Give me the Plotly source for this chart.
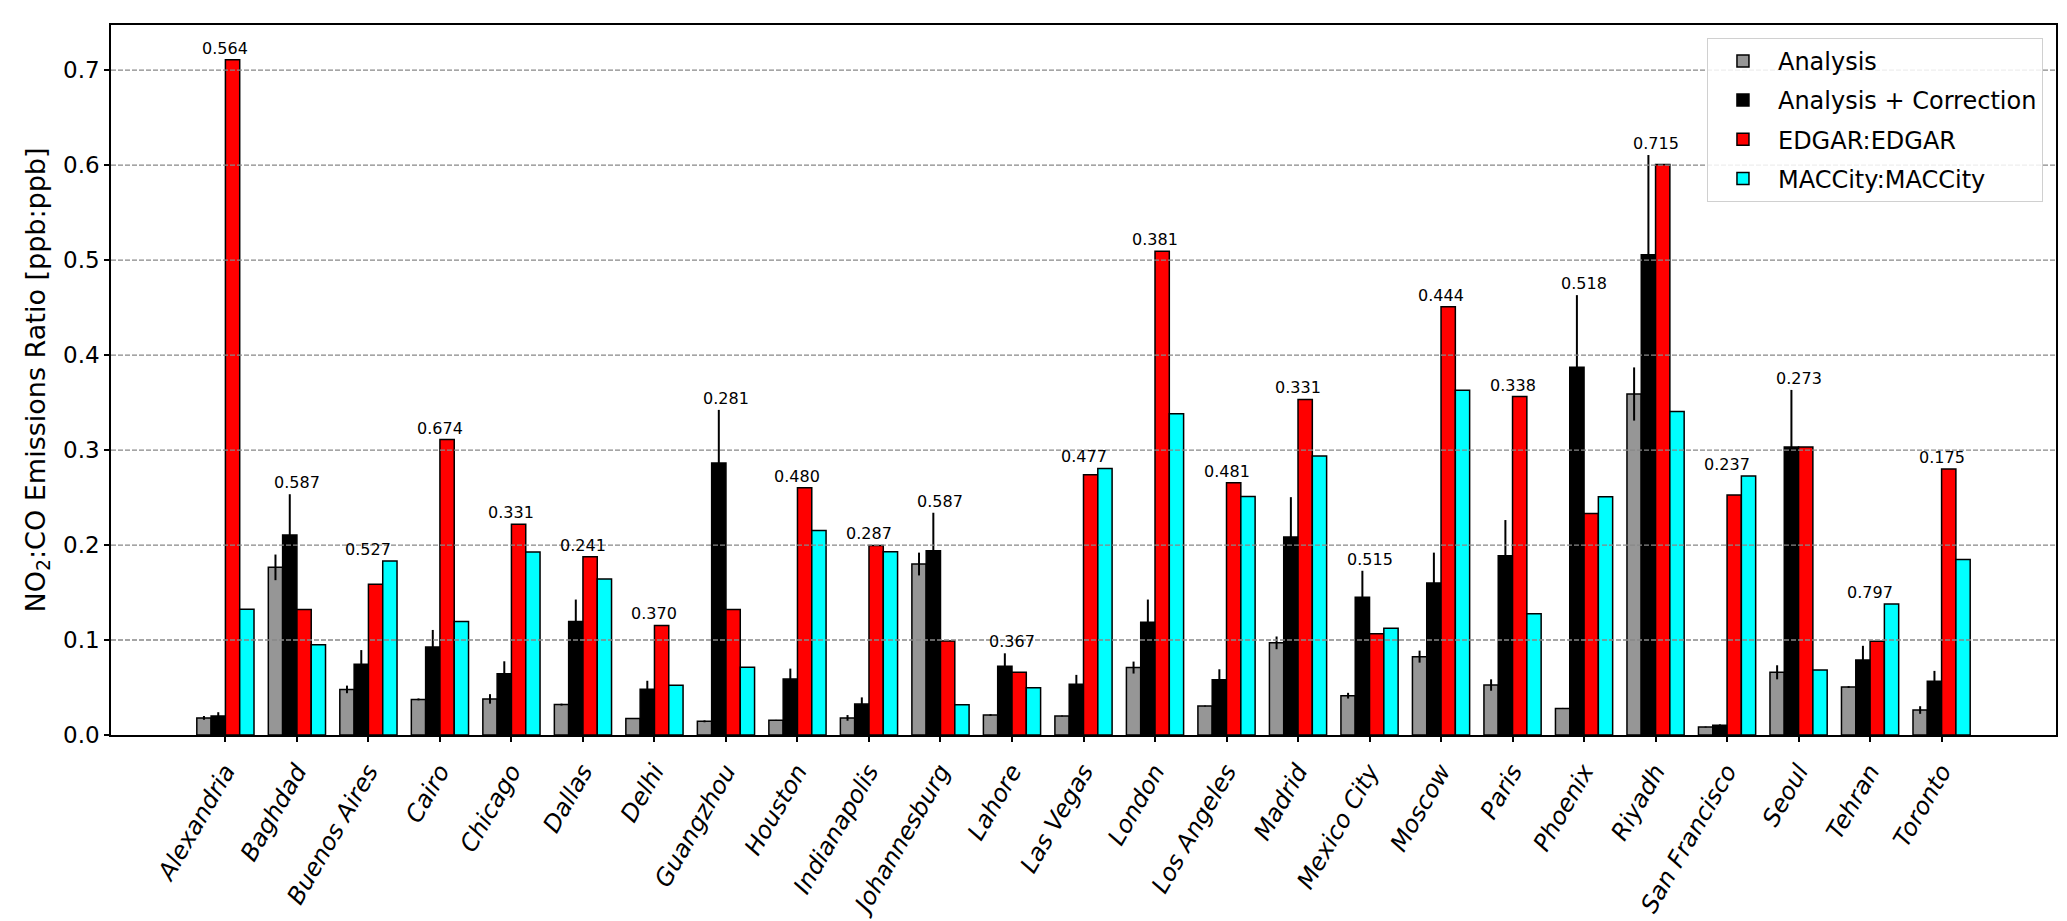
import plotly.graph_objects as go

cities = ["Alexandria", "Baghdad", "Buenos Aires", "Cairo", "Chicago", "Dallas", "Delhi",
          "Guangzhou", "Houston", "Indianapolis", "Johannesburg", "Lahore", "Las Vegas",
          "London", "Los Angeles", "Madrid", "Mexico City", "Moscow", "Paris", "Phoenix",
          "Riyadh", "San Francisco", "Seoul", "Tehran", "Toronto"]

analysis = [0.018, 0.1765, 0.048, 0.0375, 0.038, 0.032, 0.0175, 0.0144, 0.0154, 0.018,
            0.180, 0.021, 0.020, 0.071, 0.0305, 0.097, 0.0414, 0.0825, 0.0526, 0.028,
            0.359, 0.0084, 0.066, 0.0505, 0.0263]
analysis_err = [0.002, 0.0135, 0.004, 0.001, 0.005, 0.001, 0.0005, 0.001, 0.0005, 0.003,
                0.012, 0.001, 0.0005, 0.0063, 0.0005, 0.0067, 0.003, 0.0063, 0.006, 0.0005,
                0.028, 0.0005, 0.0074, 0.001, 0.004]

corrected = [0.020, 0.2105, 0.0744, 0.0926, 0.0646, 0.1196, 0.0481, 0.2863, 0.0589, 0.0326,
             0.194, 0.0723, 0.0533, 0.1186, 0.0582, 0.2084, 0.1449, 0.160, 0.1888, 0.3871,
             0.5056, 0.0102, 0.3033, 0.0789, 0.0565]
corrected_err = [0.004, 0.043, 0.015, 0.018, 0.013, 0.023, 0.009, 0.056, 0.011, 0.007,
                 0.040, 0.0137, 0.010, 0.024, 0.011, 0.042, 0.028, 0.032, 0.0375, 0.076,
                 0.105, 0.001, 0.060, 0.015, 0.011]

edgar = [0.711, 0.132, 0.1586, 0.311, 0.2218, 0.1877, 0.1154, 0.132, 0.2604, 0.1996,
         0.0989, 0.066, 0.274, 0.5093, 0.2656, 0.3533, 0.1067, 0.451, 0.3563, 0.2333,
         0.6007, 0.2526, 0.3033, 0.0986, 0.280]

maccity = [0.1323, 0.095, 0.1832, 0.1196, 0.1926, 0.1642, 0.0523, 0.0712, 0.2154, 0.193,
           0.0319, 0.0498, 0.2807, 0.3382, 0.2512, 0.2937, 0.1123, 0.363, 0.1277, 0.2509,
           0.3407, 0.2726, 0.0684, 0.1379, 0.1849]

bar_labels = ["0.564", "0.587", "0.527", "0.674", "0.331", "0.241", "0.370", "0.281", "0.480",
              "0.287", "0.587", "0.367", "0.477", "0.381", "0.481", "0.331", "0.515", "0.444",
              "0.338", "0.518", "0.715", "0.237", "0.273", "0.797", "0.175"]

y_ticks = [0.0, 0.1, 0.2, 0.3, 0.4, 0.5, 0.6, 0.7]

FONT = "DejaVu Sans"

fig = go.Figure()

series = [
    ("Analysis", analysis, analysis_err, "#969696"),
    ("Analysis + Correction", corrected, corrected_err, "#000000"),
    ("EDGAR:EDGAR", edgar, None, "#ff0000"),
    ("MACCity:MACCity", maccity, None, "#00ffff"),
]
for name, vals, err, color in series:
    kw = {}
    if err is not None:
        kw["error_y"] = dict(type="data", array=err, visible=True, color="black",
                             thickness=2, width=0)
    fig.add_trace(go.Bar(x=cities, y=vals, name=name, legendgroup=name,
                         marker=dict(color=color, line=dict(color="black", width=1.5)),
                         **kw))

# value labels above the tallest element of each city
for i, c in enumerate(cities):
    top = max(analysis[i] + analysis_err[i], corrected[i] + corrected_err[i], edgar[i], maccity[i])
    fig.add_annotation(x=c, y=top, text=bar_labels[i], showarrow=False,
                       yanchor="bottom", xanchor="center", yshift=0,
                       font=dict(family=FONT, size=16, color="black"))

# dashed grid drawn above bars (as in the reference)
for t in y_ticks[1:]:
    fig.add_shape(type="line", xref="paper", x0=0, x1=1, yref="y", y0=t, y1=t,
                  line=dict(color="#888888", width=1.3, dash="5px,2px"), layer="above")

fig.update_layout(
    width=2067, height=921,
    margin=dict(l=103, r=19, t=17, b=194, autoexpand=False),
    paper_bgcolor="white", plot_bgcolor="white",
    barmode="group", bargap=0.2, bargroupgap=0,
    font=dict(family=FONT, color="black"),
    showlegend=True,
    legend=dict(x=0.9933, y=0.982, xanchor="right", yanchor="top",
                bgcolor="rgba(255,255,255,0.85)", bordercolor="#d0d0d0", borderwidth=1,
                font=dict(family=FONT, size=24, color="black"), tracegroupgap=5,
                itemwidth=60),
)
fig.update_xaxes(
    type="category", range=[-1.6, 25.6], tickangle=-60,
    tickfont=dict(family=FONT, size=24, color="black", style="italic"),
    ticks="outside", ticklen=5, tickwidth=1.5, tickcolor="black", ticklabelstandoff=6,
    showline=True, linecolor="black", linewidth=1.5, mirror=True, showgrid=False,
)
fig.update_yaxes(
    range=[0, 0.7475], tickvals=y_ticks, tickformat=".1f",
    tickfont=dict(family=FONT, size=23, color="black"),
    ticks="outside", ticklen=5, tickwidth=1.5, tickcolor="black",
    showline=True, linecolor="black", linewidth=1.5, mirror=True, showgrid=False,
    zeroline=False,
    title=dict(text="NO<sub>2</sub>:CO Emissions Ratio [ppb:ppb]",
               font=dict(family=FONT, size=27, color="black"), standoff=10),
)

fig.write_html("out.html")
